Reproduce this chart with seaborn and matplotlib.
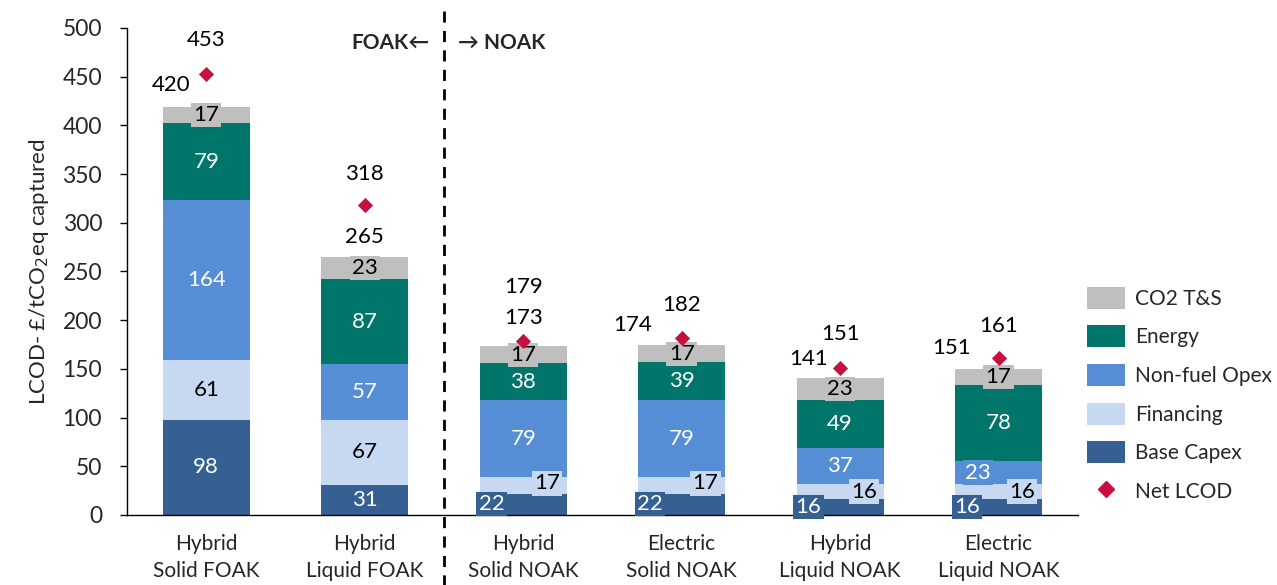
import matplotlib
matplotlib.use("Agg")
import matplotlib.pyplot as plt
import pandas as pd
import seaborn as sns
from matplotlib.patches import Patch
from matplotlib.lines import Line2D

# data
categories = ["Hybrid\nSolid FOAK", "Hybrid\nLiquid FOAK", "Hybrid\nSolid NOAK",
              "Electric\nSolid NOAK", "Hybrid\nLiquid NOAK", "Electric\nLiquid NOAK"]
base_capex = [98, 31, 22, 22, 16, 16]
financing = [61, 67, 17, 17, 16, 16]
nonfuel_opex = [164, 57, 79, 79, 37, 23]
energy = [79, 87, 38, 39, 49, 78]
co2_ts = [17, 23, 17, 17, 23, 17]
totals = [420, 265, 173, 174, 141, 151]
net_lcod = [453, 318, 179, 182, 151, 161]

series_names = ["Base Capex", "Financing", "Non-fuel Opex", "Energy", "CO2 T&S"]
series_vals = [base_capex, financing, nonfuel_opex, energy, co2_ts]
colors = {"Base Capex": "#366092", "Financing": "#C6D9F1", "Non-fuel Opex": "#558ED5",
          "Energy": "#00756A", "CO2 T&S": "#BFBFBF"}
text_colors = {"Base Capex": "white", "Financing": "black", "Non-fuel Opex": "white",
               "Energy": "white", "CO2 T&S": "black"}
diamond_color = "#C8103E"

df = pd.DataFrame({"cat": categories})
for name, vals in zip(series_names, series_vals):
    df[name] = vals
df["net"] = net_lcod

sns.set_style("white")
plt.rcParams["font.family"] = ["Lato", "DejaVu Sans"]

fig = plt.figure(figsize=(12.77, 5.85), dpi=100)
ax = fig.add_axes([0.0995, 0.1197, 0.7445, 0.8325])

# stacked bars: draw cumulative sums from the top layer down
cum = df[series_names].cumsum(axis=1)
for name in reversed(series_names):
    sns.barplot(x=df["cat"], y=cum[name], color=colors[name], width=0.55,
                saturation=1, ax=ax, linewidth=0, zorder=2)

# segment labels
# per-bar small offsets for the crowded bottom segments (x in bar units)
label_dx = {"Base Capex": [0, 0, -0.2, -0.2, -0.2, -0.2],
            "Financing": [0, 0, 0.15, 0.15, 0.15, 0.15],
            "Non-fuel Opex": [0, 0, 0, 0, 0, -0.13]}
label_dy = {"Base Capex": [0, 0, 0, 0, 0, 0],
            "Financing": [0, 0, 2, 2, 0, 0]}
for j, name in enumerate(series_names):
    for i in range(len(categories)):
        v = df[name][i]
        bottom = cum[name][i] - v
        dx = label_dx.get(name, [0] * 6)[i]
        dy = label_dy.get(name, [0] * 6)[i]
        ax.text(i + dx, bottom + v / 2 + dy, f"{v}", ha="center", va="center",
                fontsize=16, color=text_colors[name], zorder=4, clip_on=False,
                bbox=dict(boxstyle="square,pad=0.1", fc=colors[name], ec="none"))

# net LCOD diamonds
sns.scatterplot(x=list(range(len(categories))), y=df["net"], marker="D",
                color=diamond_color, s=60, ax=ax, zorder=5, linewidth=0)

# total and net labels
total_dx = [-0.22, 0, 0, -0.31, -0.2, -0.3]
total_dy = [21, 20, 29, 21, 19, 20]
net_dy = [35, 32, 55, 34, 35, 33]
for i in range(len(categories)):
    ax.text(i + total_dx[i], totals[i] + total_dy[i], f"{totals[i]}", ha="center",
            va="center", fontsize=16, color="black", zorder=4)
    ax.text(i, net_lcod[i] + net_dy[i], f"{net_lcod[i]}", ha="center",
            va="center", fontsize=16, color="black", zorder=4)

# FOAK / NOAK divider
ax.axvline(1.5, ymin=-0.145, ymax=1.05, clip_on=False, color="black",
           linestyle=(0, (4, 3)), linewidth=2, zorder=3)
ax.text(1.41, 485, "FOAK\u2190", ha="right", va="center", fontsize=15, fontweight="bold")
ax.text(1.59, 485, "\u2192 NOAK", ha="left", va="center", fontsize=15, fontweight="bold")

ax.set_xlim(-0.5, 5.5)
ax.set_ylim(0, 500)
ax.set_yticks(range(0, 501, 50))
ax.set_xlabel("")
ax.set_ylabel("LCOD- £/tCO$_2$eq captured", fontsize=16, labelpad=8)
ax.tick_params(axis="y", labelsize=16.5, direction="out", length=5, width=1, left=True,
               color="black", pad=13)
ax.tick_params(axis="x", labelsize=15, length=0, pad=14)
for lab in ax.get_xticklabels():
    lab.set_linespacing(1.4)
for s in ["top", "right"]:
    ax.spines[s].set_visible(False)
for s in ["left", "bottom"]:
    ax.spines[s].set_color("black")
    ax.spines[s].set_linewidth(1)

handles = [Patch(facecolor=colors[n], edgecolor="none", label=n) for n in reversed(series_names)]
handles.append(Line2D([], [], marker="D", color=diamond_color, linestyle="none",
                      markersize=8, label="Net LCOD"))
fig.legend(handles=handles, loc="upper left", bbox_to_anchor=(0.851, 0.51),
           frameon=False, fontsize=15, handlelength=1.85, handleheight=1.25,
           labelspacing=0.8, handletextpad=0.45, borderaxespad=0, borderpad=0)

fig.savefig("out.png", dpi=100)
